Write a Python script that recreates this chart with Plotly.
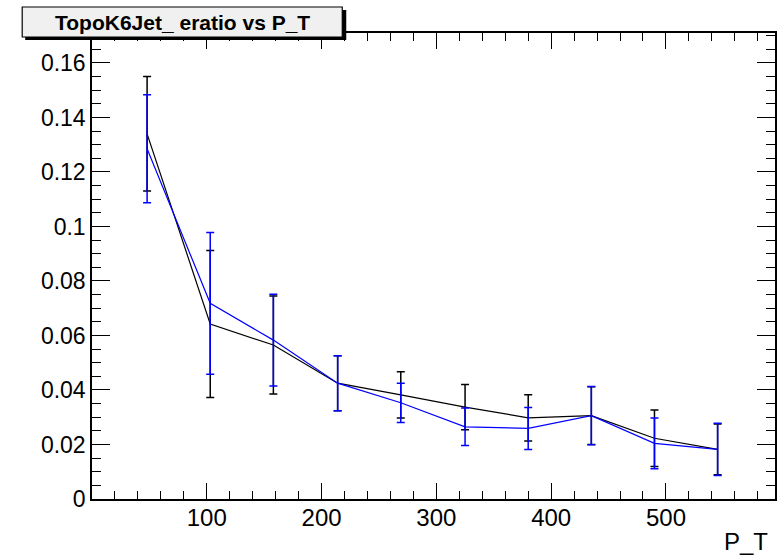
import plotly.graph_objects as go

pt = [48, 103, 158, 214, 269, 325, 380, 435, 490, 545]
black_y = [0.134, 0.0642, 0.0565, 0.0425, 0.0382, 0.0337, 0.0298, 0.0306, 0.0223, 0.0182]
black_err = [0.021, 0.027, 0.018, 0.0101, 0.0085, 0.0083, 0.0085, 0.0106, 0.0104, 0.0093]
blue_y = [0.1285, 0.0718, 0.0583, 0.0425, 0.0353, 0.0265, 0.0259, 0.0306, 0.0204, 0.0182]
blue_err = [0.0198, 0.026, 0.0168, 0.0101, 0.0072, 0.0069, 0.0077, 0.0107, 0.0093, 0.0096]
x_ticks = [100, 200, 300, 400, 500]

FONT = "Liberation Sans, Arial, Helvetica, sans-serif"

fig = go.Figure()
fig.add_trace(go.Scatter(x=pt, y=black_y, mode="lines",
                         line=dict(color="#000000", width=1.2),
                         error_y=dict(type="data", array=black_err, color="#000000",
                                      thickness=1.5, width=4),
                         showlegend=False))
fig.add_trace(go.Scatter(x=pt, y=blue_y, mode="lines",
                         line=dict(color="#0000ff", width=1.2),
                         error_y=dict(type="data", array=blue_err, color="#0000ff",
                                      thickness=1.5, width=4),
                         showlegend=False))

L, R, T, B = 92, 6, 33, 58
W, H = 783, 557
pw = W - L - R
ph = H - T - B

def px2x(p):
    return (p - L) / pw

def px2y(p):
    return (H - B - p) / ph

fig.update_layout(
    width=W, height=H,
    margin=dict(l=L, r=R, t=T, b=B),
    paper_bgcolor="white", plot_bgcolor="white",
    font=dict(family=FONT, size=23, color="#000000"),
    xaxis=dict(range=[0, 595], tickmode="array", tickvals=x_ticks,
               ticks="inside", ticklen=16, tickwidth=1.3, tickcolor="black",
               showline=True, linecolor="black", linewidth=1.5, mirror="allticks",
               showgrid=False, zeroline=False, ticklabelstandoff=-4,
               tickfont=dict(size=24),
               minor=dict(tickmode="linear", tick0=0, dtick=20, ticks="inside",
                          ticklen=8, tickwidth=1.3, tickcolor="black", showgrid=False)),
    yaxis=dict(range=[0, 0.171], tickmode="linear", tick0=0, dtick=0.02,
               ticks="inside", ticklen=18, tickwidth=1.3, tickcolor="black",
               showline=True, linecolor="black", linewidth=1.5, mirror="allticks",
               showgrid=False, zeroline=False,
               tickfont=dict(size=23),
               minor=dict(tickmode="linear", tick0=0, dtick=0.005, ticks="inside",
                          ticklen=9, tickwidth=1.3, tickcolor="black", showgrid=False)),
)

# title box with shadow
fig.add_shape(type="rect", xref="paper", yref="paper",
              x0=px2x(25), x1=px2x(347), y0=px2y(40), y1=px2y(10),
              fillcolor="black", line=dict(width=0), layer="above")
fig.add_shape(type="rect", xref="paper", yref="paper",
              x0=px2x(22), x1=px2x(343), y0=px2y(37), y1=px2y(7),
              fillcolor="#f0f0f0", line=dict(color="black", width=1.2), layer="above")
fig.add_annotation(xref="paper", yref="paper", x=px2x(183), y=px2y(22),
                   text="<b>TopoK6Jet_ eratio vs P_T</b>", showarrow=False,
                   font=dict(family=FONT, size=21, color="black"),
                   xanchor="center", yanchor="middle")
fig.add_annotation(xref="paper", yref="paper", x=px2x(772), y=px2y(541),
                   text="P_T", showarrow=False,
                   font=dict(family=FONT, size=24, color="black"),
                   xanchor="right", yanchor="middle")

fig.write_html("out.html")
